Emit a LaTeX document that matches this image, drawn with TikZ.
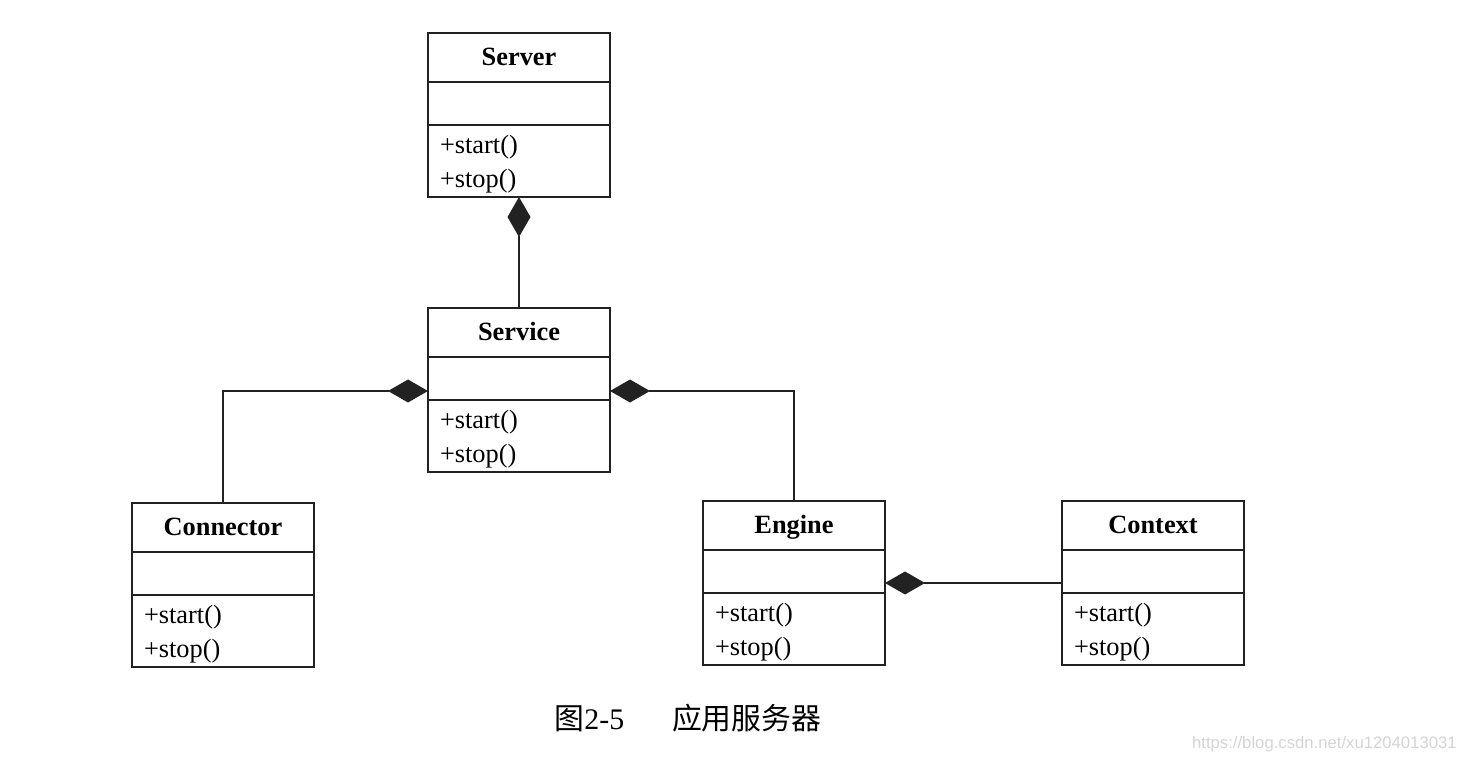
\documentclass[tikz,border=0pt]{standalone}
\usepackage{fontspec}
\setmainfont{Liberation Serif}
\newfontfamily\cjk{Noto Sans CJK SC}
\newfontfamily\urlfont{Liberation Sans}
\usepackage{tikz}
\usetikzlibrary{arrows.meta, positioning, calc}
\definecolor{umlline}{HTML}{222222}
\definecolor{wmgray}{HTML}{D4D4D4}

\begin{document}
\begin{tikzpicture}[
    title/.style={rectangle, draw=umlline, line width=1.3pt, outer sep=0pt, minimum width=3.64cm, minimum height=0.98cm, inner sep=0pt, text height=12.5pt, text depth=3pt, font=\fontsize{15}{18}\selectfont\bfseries},
    attrs/.style={rectangle, draw=umlline, line width=1.3pt, outer sep=0pt, minimum width=3.64cm, minimum height=0.86cm, inner sep=0pt},
    ops/.style={rectangle, draw=umlline, line width=1.3pt, outer sep=0pt, text width=3.16cm, minimum height=1.44cm, inner xsep=0.24cm, inner ysep=0pt, text height=14pt, align=left, font=\fontsize{15}{19.4}\selectfont},
    comp/.style={-{Diamond[length=0.8cm, width=0.46cm, fill=umlline]}, line width=0.8pt, color=umlline},
    caption/.style={font=\fontsize{17}{20}\selectfont}
]
\useasboundingbox (0,0) rectangle (29.3,-15.22);

% Server
\node[title] (server) at (10.38,-1.15) {Server};
\node[attrs, below=0pt of server] (server-attr) {};
\node[ops, below=0pt of server-attr] (server-ops) {+start()\\+stop()};

% Service
\node[title, below=2.22cm of server-ops] (service) {Service};
\node[attrs, below=0pt of service] (service-attr) {};
\node[ops, below=0pt of service-attr] (service-ops) {+start()\\+stop()};

% Connector
\node[title, below left=0.62cm and 2.28cm of service-ops] (connector) {Connector};
\node[attrs, below=0pt of connector] (connector-attr) {};
\node[ops, below=0pt of connector-attr] (connector-ops) {+start()\\+stop()};

% Engine
\node[title, below right=0.58cm and 1.86cm of service-ops] (engine) {Engine};
\node[attrs, below=0pt of engine] (engine-attr) {};
\node[ops, below=0pt of engine-attr] (engine-ops) {+start()\\+stop()};

% Context
\node[title, right=3.54cm of engine] (context) {Context};
\node[attrs, below=0pt of context] (context-attr) {};
\node[ops, below=0pt of context-attr] (context-ops) {+start()\\+stop()};

% composition links
\draw[comp] (service) -- (server-ops);
\draw[comp] (connector.north) |- ([yshift=0.18cm]service-attr.south west);
\draw[comp] (engine.north) |- ([yshift=0.18cm]service-attr.south east);
\draw[comp] ([yshift=0.2cm]context-attr.south west) -- ([yshift=0.2cm]engine-attr.south east);

\node[caption] (fig) at (13.76,-14.36) {\cjk 图\rmfamily 2-5\hspace{1.6em}\cjk 应用服务器};
\node[anchor=east, inner sep=0pt, font=\urlfont\fontsize{9.5}{11}\selectfont, text=wmgray] (url) at (29.14,-14.88) {https://blog.csdn.net/xu1204013031};

\end{tikzpicture}
\end{document}
